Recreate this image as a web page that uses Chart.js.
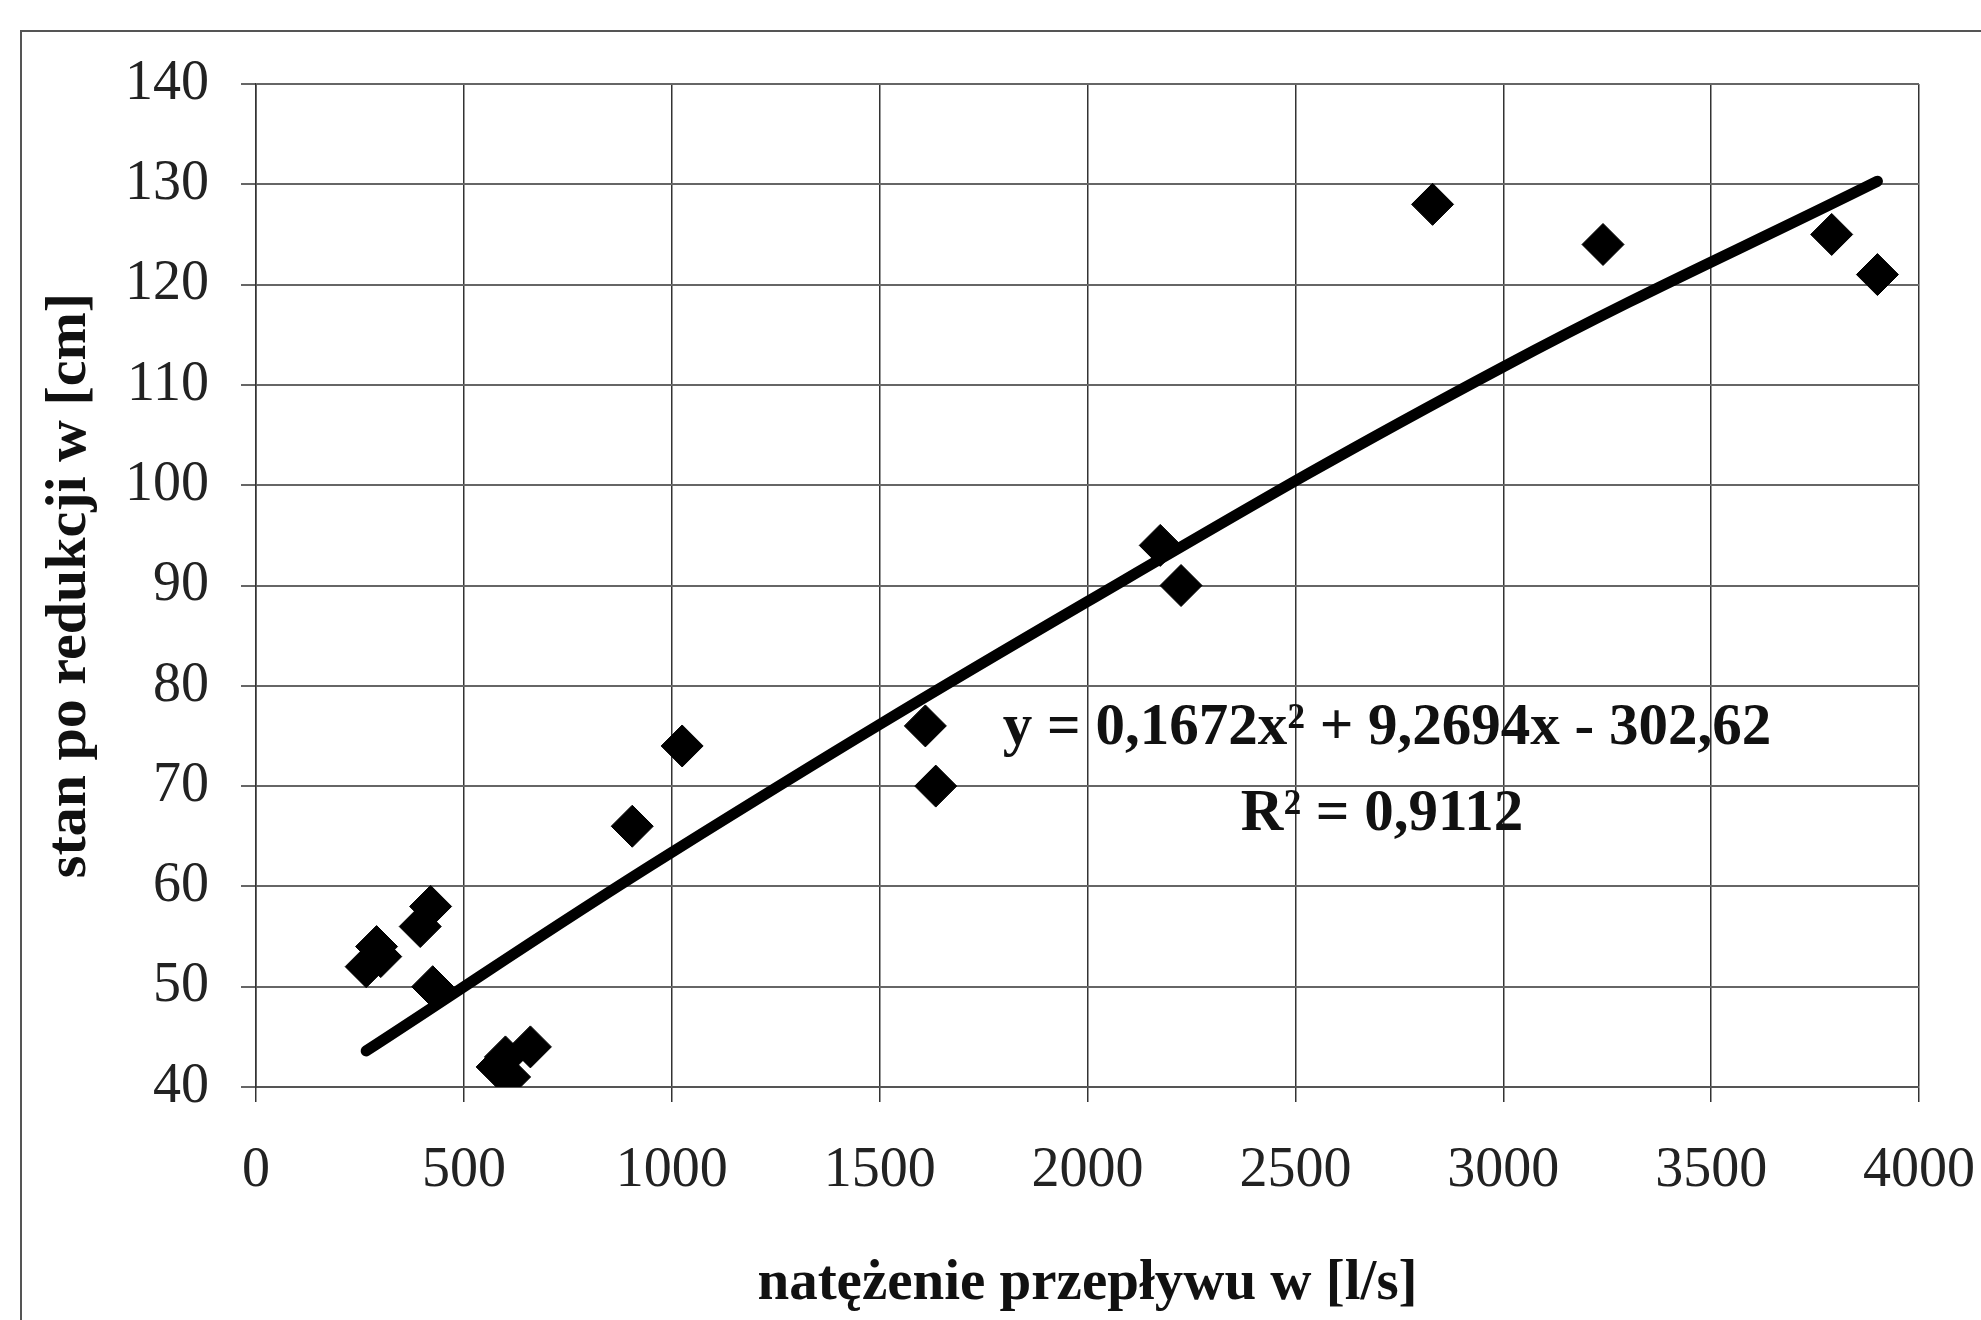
<!DOCTYPE html>
<html>
<head>
<meta charset="utf-8">
<script src="https://cdn.jsdelivr.net/npm/chart.js@4.4.1/dist/chart.umd.min.js"></script>
<style>
  html, body { margin: 0; padding: 0; background: #ffffff; }
  #wrap { width: 1981px; height: 1320px; position: relative; }
</style>
</head>
<body>
<div id="wrap"><canvas id="c" width="1981" height="1320"></canvas></div>
<script>
// ---- data ----
const flowValues  = [265, 290, 300, 395, 420, 425, 580, 600, 610, 660, 905, 1025, 1610, 1635, 2175, 2225, 2830, 3240, 3790, 3900];
const stageValues = [52,  54,  53,  56,  58,  50,  42,  43,  41,  44,  66,  74,   76,   70,   94,   90,   128,  124,  125,  121];

const trendFlow  = [265,  1000, 2000, 3000,  3900];
const trendStage = [43.6, 63.4, 88.4, 111.8, 130.3];

const xTickValues = [0, 500, 1000, 1500, 2000, 2500, 3000, 3500, 4000];
const yTickValues = [40, 50, 60, 70, 80, 90, 100, 110, 120, 130, 140];

const xAxisTitle = 'natężenie przepływu w [l/s]';
const yAxisTitle = 'stan po redukcji w [cm]';
const equationLines = ['y = 0,1672x² + 9,2694x - 302,62', 'R² = 0,9112'];

// ---- chart ----
const serif = "'Liberation Serif', 'Times New Roman', serif";

const decorPlugin = {
  id: 'decor',
  beforeDraw(chart) {
    const ctx = chart.ctx;
    ctx.save();
    ctx.fillStyle = '#ffffff';
    ctx.fillRect(0, 0, chart.width, chart.height);
    ctx.strokeStyle = '#555555';
    ctx.lineWidth = 2;
    ctx.beginPath();
    ctx.moveTo(21, 1320);
    ctx.lineTo(21, 31);
    ctx.lineTo(1981, 31);
    ctx.stroke();
    ctx.restore();
  },
  afterDraw(chart) {
    const ctx = chart.ctx;
    ctx.save();
    ctx.fillStyle = '#111111';
    ctx.font = "bold 59px " + serif;
    ctx.textAlign = 'center';
    ctx.textBaseline = 'middle';
    ctx.fillText(equationLines[0], 1387, 729);
    ctx.fillText(equationLines[1], 1382, 815);
    ctx.restore();
  }
};

const chart = new Chart(document.getElementById('c'), {
  type: 'scatter',
  data: {
    datasets: [
      {
        label: 'pomiary',
        data: flowValues.map((x, i) => ({ x: x, y: stageValues[i] })),
        pointStyle: 'rectRot',
        pointRadius: 21,
        pointHoverRadius: 21,
        backgroundColor: '#000000',
        borderColor: '#000000',
        borderWidth: 1,
        order: 1
      },
      {
        label: 'trend',
        type: 'line',
        data: trendFlow.map((x, i) => ({ x: x, y: trendStage[i] })),
        showLine: true,
        pointRadius: 0,
        pointHoverRadius: 0,
        borderColor: '#000000',
        borderWidth: 11,
        borderCapStyle: 'round',
        borderJoinStyle: 'round',
        tension: 0.4,
        fill: false,
        order: 2
      }
    ]
  },
  options: {
    responsive: false,
    animation: false,
    devicePixelRatio: 1,
    layout: { padding: { left: 20, top: 84, right: 62, bottom: 0 } },
    plugins: {
      legend: { display: false },
      tooltip: { enabled: false },
      title: { display: false }
    },
    scales: {
      x: {
        type: 'linear',
        position: 'bottom',
        min: 0,
        max: 4000,
        afterBuildTicks: (s) => { s.ticks = xTickValues.map(v => ({ value: v })); },
        afterFit: (s) => { s.height = 233; s.paddingLeft = 0; s.paddingRight = 0; },
        ticks: {
          autoSkip: false,
          maxRotation: 0,
          padding: 36,
          color: '#222222',
          font: { family: serif, size: 56 },
          callback: (v) => String(v)
        },
        grid: {
          color: '#333333',
          lineWidth: 1.5,
          tickLength: 15,
          drawTicks: true
        },
        border: { display: true, color: '#555555', width: 2 },
        title: {
          display: true,
          text: xAxisTitle,
          color: '#111111',
          font: { family: serif, size: 57, weight: 'bold' },
          padding: { top: 0, bottom: 2 }
        }
      },
      y: {
        type: 'linear',
        min: 40,
        max: 140,
        afterBuildTicks: (s) => { s.ticks = yTickValues.map(v => ({ value: v })); },
        afterFit: (s) => { s.width = 236; s.paddingTop = 0; s.paddingBottom = 0; },
        ticks: {
          padding: 32,
          color: '#222222',
          font: { family: serif, size: 56 },
          callback: (v) => String(v)
        },
        grid: {
          color: '#666666',
          lineWidth: 2,
          tickLength: 15,
          drawTicks: true
        },
        border: { display: true, color: '#333333', width: 1.5 },
        title: {
          display: true,
          text: yAxisTitle,
          color: '#111111',
          font: { family: serif, size: 58, weight: 'bold' },
          padding: { top: 15, bottom: 0 }
        }
      }
    }
  },
  plugins: [decorPlugin]
});
</script>
</body>
</html>
